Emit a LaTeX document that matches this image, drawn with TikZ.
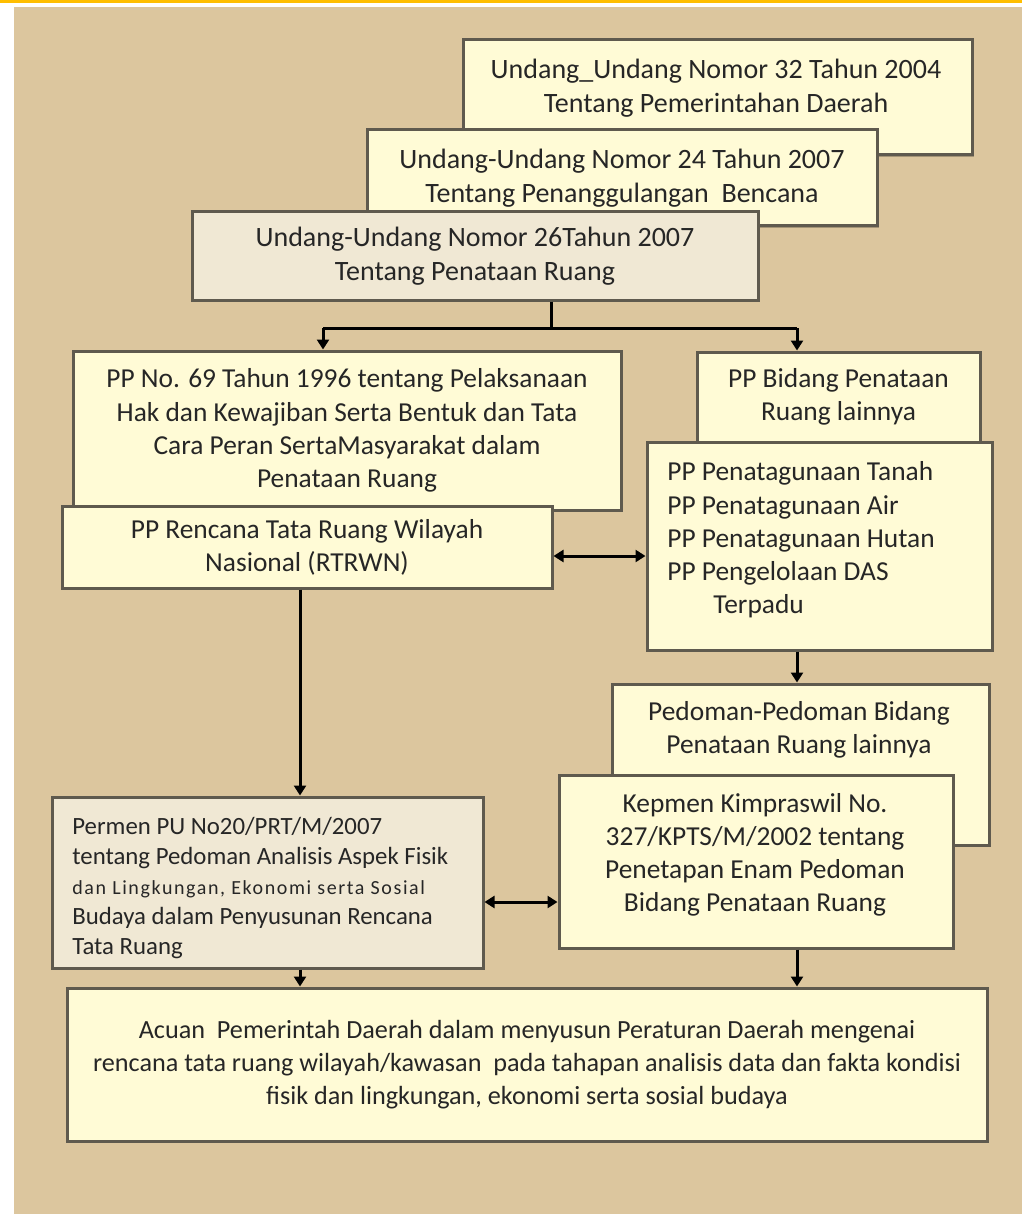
\documentclass[tikz,border=0pt]{standalone}
\usepackage{fontspec}
\setmainfont{Carlito}
\usetikzlibrary{arrows.meta,shadows}

\definecolor{tanbg}{RGB}{220,198,158}
\definecolor{cream}{RGB}{255,251,214}
\definecolor{paper}{RGB}{240,232,212}
\definecolor{rim}{RGB}{95,90,78}
\definecolor{ink}{RGB}{38,38,38}
\definecolor{topline}{RGB}{255,190,0}

\begin{document}
\begin{tikzpicture}[x=0.5pt,y=-0.5pt,
  box/.style={draw=rim, line width=1.5pt, fill=cream, inner sep=0pt, align=center, text=ink,
    drop shadow={shadow xshift=1.2pt,shadow yshift=-1.2pt,fill=black,opacity=.25}},
  paperbox/.style={box, fill=paper},
  dims/.style 2 args={minimum width=#1, minimum height=#2},
  words/.style={text=ink, inner sep=0pt},
  big/.style={font=\fontsize{14}{17}\selectfont},
  mid/.style={font=\fontsize{13.7}{16.6}\selectfont},
  small/.style={font=\fontsize{12.4}{15}\selectfont},
  foot/.style={font=\fontsize{13.1}{16.5}\selectfont},
  link/.style={line width=1.5pt, -{Triangle[length=5pt,width=6pt]}},
  twoway/.style={line width=1.5pt, {Triangle[length=5pt,width=6pt]}-{Triangle[length=5pt,width=6pt]}}]

	% page: white margin, orange rule and tan panel
	\useasboundingbox (0,0) rectangle (1022,1214);
	\fill[white] (0,0) rectangle (1022,1214);
	\fill[topline] (0,0) rectangle (1022,3);
	\fill[tanbg] (14,7) rectangle (1022,1214);

	% the three laws, stacked
	\node[box, dims={254.5pt}{57.5pt}] (uu32) at (717.5,97.5) {};
	\node[words, big, align=center] (uu32text) at (716,88) {Undang\_Undang Nomor 32 Tahun 2004\\Tentang Pemerintahan Daerah};
	\node[box, big, dims={255pt}{48pt}] (uu24) at (622,178) {Undang-Undang Nomor 24 Tahun 2007\\Tentang Penanggulangan\ \ Bencana};
	\node[paperbox, big, dims={283pt}{44pt}] (uu26) at (475,256) {Undang-Undang Nomor 26Tahun 2007\\Tentang Penataan Ruang};

	% government regulations
	\node[box, mid, dims={274pt}{79.5pt}] (pp69) at (347,430.5) {PP No. 69 Tahun 1996 tentang Pelaksanaan\\Hak dan Kewajiban Serta Bentuk dan Tata\\Cara Peran SertaMasyarakat dalam\\Penataan Ruang};
	\node[box, mid, dims={141.5pt}{45pt}] (ppbidang) at (838.5,397) {PP Bidang Penataan\\Ruang lainnya};
	\node[box, dims={172.5pt}{104pt}] (pplist) at (819.5,546) {};
	\node[words, mid, align=left, anchor=west] (pplisttext) at (667,540) {PP Penatagunaan Tanah\\PP Penatagunaan Air\\PP Penatagunaan Hutan\\PP Pengelolaan DAS\\\hspace*{23pt}Terpadu};
	\node[box, mid, dims={245pt}{41pt}] (rtrwn) at (307,547) {PP Rencana Tata Ruang Wilayah\\Nasional (RTRWN)};

	% guidelines
	\node[box, dims={188.5pt}{80.5pt}] (pedoman) at (800.5,764.5) {};
	\node[words, mid, align=center] (pedomantext) at (799,730) {Pedoman-Pedoman Bidang\\Penataan Ruang lainnya};
	\node[box, mid, dims={197pt}{86.5pt}] (kepmen) at (756,861.5) {};
	\node[words, mid, align=center] (kepmentext) at (755,855) {Kepmen Kimpraswil No.\\327/KPTS/M/2002 tentang\\Penetapan Enam Pedoman\\Bidang Penataan Ruang};
	\node[paperbox, dims={215.5pt}{85.5pt}] (permen) at (267.5,882.5) {};
	\node[words, small, align=left, anchor=west] (permentext) at (72,888) {Permen PU No20/PRT/M/2007\\tentang Pedoman Analisis Aspek Fisik\\{\fontsize{10}{15}\selectfont\addfontfeature{LetterSpace=8}dan Lingkungan, Ekonomi serta Sosial}\\Budaya dalam Penyusunan Rencana\\Tata Ruang};

	% result
	\node[box, foot, dims={460pt}{76.5pt}] (acuan) at (527,1064.5) {Acuan\ \ Pemerintah Daerah dalam menyusun Peraturan Daerah mengenai\\rencana tata ruang wilayah/kawasan\ \ pada tahapan analisis data dan fakta kondisi\\fisik dan lingkungan, ekonomi serta sosial budaya};

	% connectors
	\coordinate (split) at (551,328);
	\coordinate (splitl) at (323,328);
	\coordinate (splitr) at (797,328);
	\draw[line width=1.5pt] (split |- uu26.south) -- (split);
	\draw[line width=1.5pt] (splitl) -- (splitr);
	\draw[link] (splitl) -- (splitl |- pp69.north);
	\draw[link] (splitr) -- (splitr |- ppbidang.north);
	\draw[twoway] (rtrwn.east |- 0,556) -- (pplist.west |- 0,556);
	\draw[link] (rtrwn.south -| 300,0) -- (permen.north -| 300,0);
	\draw[link] (pplist.south -| 797,0) -- (pedoman.north -| 797,0);
	\draw[twoway] (permen.east |- 0,902) -- (kepmen.west |- 0,902);
	\draw[link] (permen.south -| 300,0) -- (acuan.north -| 300,0);
	\draw[link] (kepmen.south -| 797,0) -- (acuan.north -| 797,0);

\end{tikzpicture}
\end{document}
